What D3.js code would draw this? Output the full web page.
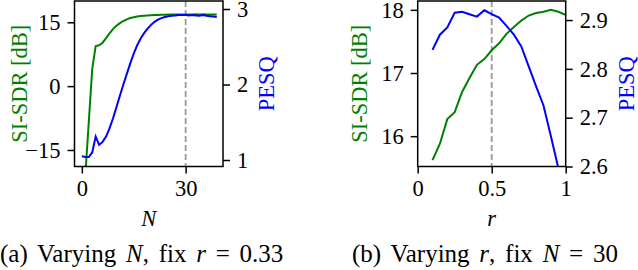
<!DOCTYPE html>
<html>
<head>
<meta charset="utf-8">
<script src="https://cdn.jsdelivr.net/npm/d3@7"></script>
<style>
  body { margin: 0; background: #fff; }
  text { font-family: "Liberation Serif", "Times New Roman", serif; }
</style>
</head>
<body>
<div class="canvas"></div>
<script>

// panel (a): varying N
const nValues = d3.range(0, 40);
const sdrByN = [-35, -21, -8.5, 4, 9.4, 9.6, 10.2, 11.3, 12.4, 13.4,
    14.2, 14.8, 15.3, 15.7, 16.0, 16.2, 16.35, 16.45, 16.55, 16.6,
    16.65, 16.7, 16.72, 16.75, 16.77, 16.8, 16.8, 16.82, 16.83, 16.84,
    16.85, 16.85, 16.85, 16.86, 16.85, 16.86, 16.85, 16.84, 16.84, 16.83];
const pesqByN = [1.05, 1.04, 1.04, 1.1, 1.31, 1.2, 1.24, 1.31, 1.42, 1.55,
    1.7, 1.85, 2.0, 2.14, 2.28, 2.41, 2.52, 2.61, 2.68, 2.74,
    2.79, 2.83, 2.86, 2.88, 2.895, 2.905, 2.91, 2.915, 2.92, 2.92,
    2.92, 2.915, 2.92, 2.915, 2.91, 2.92, 2.91, 2.905, 2.9, 2.895];

// panel (b): varying r
const rValues = [0.1, 0.15, 0.2, 0.25, 0.3, 0.35, 0.4, 0.45, 0.5, 0.55,
    0.6, 0.65, 0.7, 0.75, 0.8, 0.85, 0.9, 0.95, 1.0];
const sdrByR = [15.62, 15.88, 16.27, 16.38, 16.70, 16.92, 17.13, 17.22, 17.36, 17.47,
    17.62, 17.73, 17.83, 17.91, 17.95, 17.97, 18.0, 17.97, 17.92];
const pesqByR = [2.839, 2.870, 2.885, 2.915, 2.917, 2.912, 2.907, 2.920, 2.912, 2.905,
    2.888, 2.870, 2.846, 2.805, 2.764, 2.725, 2.662, 2.597, 2.53];

// captions: [text, italic]
const captionA = [['(a) Varying ', false], ['N', true], [', fix ', false], ['r', true], [' = 0.33', false]];
const captionB = [['(b) Varying ', false], ['r', true], [', fix ', false], ['N', true], [' = 30', false]];

const fontSize = 22.5;
const capSize = 25;

const svg = d3.select('.canvas')
  .append('svg')
    .attr('width', 638)
    .attr('height', 270);

function panel(opt) {
    const w = opt.x1 - opt.x0, h = opt.y1 - opt.y0;
    const g = svg.append('g')
        .attr('transform', `translate(${opt.x0}, ${opt.y0})`);

    const x = d3.scaleLinear().domain(opt.xDomain).range([0, w]);
    const yL = d3.scaleLinear().domain(opt.yLDomain).range([h, 0]);
    const yR = d3.scaleLinear().domain(opt.yRDomain).range([h, 0]);

    g.append('clipPath').attr('id', opt.id)
      .append('rect').attr('width', w).attr('height', h);

    const plot = g.append('g').attr('clip-path', `url(#${opt.id})`);

    plot.append('line')
        .attr('x1', x(opt.mark)).attr('x2', x(opt.mark))
        .attr('y1', 0).attr('y2', h)
        .attr('stroke', '#999')
        .attr('stroke-width', 1.8)
        .attr('stroke-dasharray', '6,3');

    const lineL = d3.line().x((d, i) => x(opt.xs[i])).y(d => yL(d));
    const lineR = d3.line().x((d, i) => x(opt.xs[i])).y(d => yR(d));

    plot.append('path').datum(opt.sdr)
        .attr('d', lineL).attr('fill', 'none')
        .attr('stroke', 'green').attr('stroke-width', 2);
    plot.append('path').datum(opt.pesq)
        .attr('d', lineR).attr('fill', 'none')
        .attr('stroke', 'blue').attr('stroke-width', 2);

    const xAxis = d3.axisBottom(x).tickValues(opt.xTicks).tickFormat(opt.xFmt)
        .tickSize(7).tickPadding(7).tickSizeOuter(0);
    const yAxisL = d3.axisLeft(yL).tickValues(opt.yLTicks).tickFormat(opt.yLFmt)
        .tickSize(7).tickPadding(7).tickSizeOuter(0);
    const yAxisR = d3.axisRight(yR).tickValues(opt.yRTicks).tickFormat(opt.yRFmt)
        .tickSize(7).tickPadding(7).tickSizeOuter(0);

    const axes = [
        g.append('g').attr('transform', `translate(0, ${h})`).call(xAxis),
        g.append('g').call(yAxisL),
        g.append('g').attr('transform', `translate(${w}, 0)`).call(yAxisR)
    ];
    axes.forEach(a => {
        a.select('.domain').remove();
        a.selectAll('line').attr('stroke', '#000').attr('stroke-width', 1.5);
        a.selectAll('text')
            .attr('font-size', fontSize)
            .attr('fill', '#000');
    });

    g.append('rect')
        .attr('width', w).attr('height', h)
        .attr('fill', 'none').attr('stroke', '#000').attr('stroke-width', 1.5);

    g.append('text')
        .attr('transform', `translate(${opt.labL}, ${h / 2}) rotate(-90)`)
        .attr('text-anchor', 'middle').attr('dy', '0.34em')
        .attr('font-size', fontSize).attr('fill', 'green')
        .text('SI-SDR [dB]');
    g.append('text')
        .attr('transform', `translate(${opt.labR}, ${h / 2}) rotate(-90)`)
        .attr('text-anchor', 'middle').attr('dy', '0.34em')
        .attr('font-size', fontSize).attr('fill', 'blue')
        .text('PESQ');

    g.append('text')
        .attr('x', w / 2).attr('y', 226 - opt.y0)
        .attr('text-anchor', 'middle')
        .attr('font-size', fontSize).attr('font-style', 'italic')
        .text(opt.xLabel);

    const cap = svg.append('text')
        .attr('x', opt.capX).attr('y', 262)
        .attr('font-size', capSize)
        .attr('word-spacing', 3.5)
        .attr('xml:space', 'preserve')
        .style('white-space', 'pre');
    opt.caption.forEach(part => {
        cap.append('tspan')
            .attr('font-style', part[1] ? 'italic' : 'normal')
            .text(part[0]);
    });
}

panel({
    id: 'clipA', x0: 74.5, x1: 223, y0: 1, y1: 166.5,
    xs: nValues, sdr: sdrByN, pesq: pesqByN, mark: 30,
    xDomain: [-2.12, 40.8], yLDomain: [-18.88, 20.0], yRDomain: [0.914, 3.106],
    xTicks: [0, 30], xFmt: d3.format('d'),
    yLTicks: [-15, 0, 15], yLFmt: d => d < 0 ? '\u2212' + Math.abs(d) : d,
    yRTicks: [1, 2, 3], yRFmt: d3.format('d'),
    labL: 19 - 74.5, labR: 266 - 74.5,
    xLabel: 'N',
    capX: 0,
    caption: captionA
});

panel({
    id: 'clipB', x0: 417.7, x1: 565.7, y0: 1, y1: 166.5,
    xs: rValues, sdr: sdrByR, pesq: pesqByR, mark: 0.5,
    xDomain: [0, 1], yLDomain: [15.52, 18.14], yRDomain: [2.6, 2.939],
    xTicks: [0, 0.5, 1], xFmt: d => d,
    yLTicks: [16, 17, 18], yLFmt: d3.format('d'),
    yRTicks: [2.6, 2.7, 2.8, 2.9], yRFmt: d3.format('.1f'),
    labL: 359 - 417.7, labR: 626.5 - 417.7,
    xLabel: 'r',
    capX: 352,
    caption: captionB
});

</script>
</body>
</html>
